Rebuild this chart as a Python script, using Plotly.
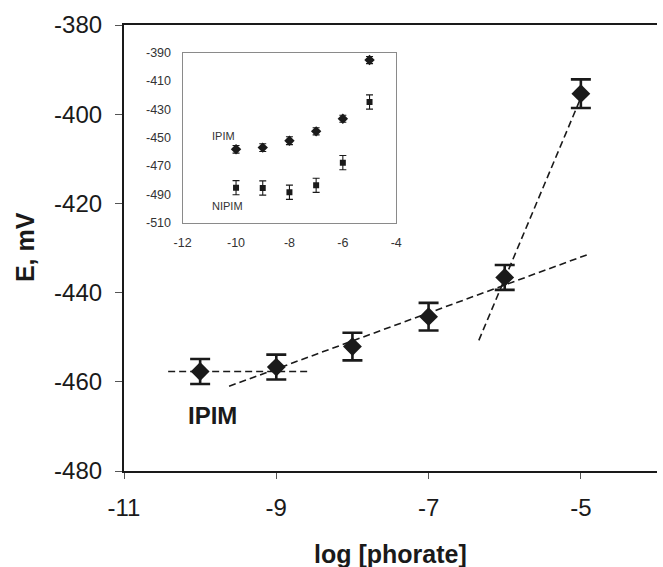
import plotly.graph_objects as go

# ---- data ----
log_conc = [-10, -9, -8, -7, -6, -5]
ipim_E = [-457.7, -456.7, -452.1, -445.4, -436.6, -395.4]
ipim_err = [2.8, 2.8, 3.1, 3.1, 2.8, 3.2]

# inset series
inset_ipim_E = [-458.2, -457.0, -452.1, -445.5, -436.6, -395.2]
inset_ipim_err = [2.7, 2.7, 2.8, 2.5, 2.5, 2.5]
nipim_E = [-485.3, -485.5, -488.5, -483.6, -467.6, -424.8]
nipim_err = [5.0, 5.0, 5.0, 5.0, 5.0, 5.0]

# dashed guide lines (end points, in data units)
flat_x = [-10.42, -8.59]
flat_y = [-457.7, -457.7]
mid_x = [-9.62, -4.90]
mid_y = [-461.0, -431.4]
steep_x = [-6.34, -5.0]
steep_y = [-450.7, -396.3]

x_ticks = [-11, -9, -7, -5]
y_ticks = [-480, -460, -440, -420, -400, -380]
inset_x_ticks = [-12, -10, -8, -6, -4]
inset_y_ticks = [-510, -490, -470, -450, -430, -410, -390]

FONT = "Arial, Liberation Sans, sans-serif"
INK = "#1a1a1a"
DASH = "7px,4px"


def labels(vals):
    return [str(v) for v in vals]  # plain hyphen minus, as in the original


fig = go.Figure()

for xs, ys in [(flat_x, flat_y), (mid_x, mid_y), (steep_x, steep_y)]:
    fig.add_trace(go.Scatter(x=xs, y=ys, mode="lines",
                             line=dict(color=INK, width=1.6, dash=DASH),
                             hoverinfo="skip", showlegend=False))

fig.add_trace(go.Scatter(
    x=log_conc, y=ipim_E, mode="markers",
    marker=dict(symbol="diamond", size=14.5, color=INK, line=dict(width=0)),
    error_y=dict(type="data", array=ipim_err, visible=True, color=INK,
                 thickness=2.6, width=10),
    showlegend=False))

# inset traces
fig.add_trace(go.Scatter(
    x=log_conc, y=inset_ipim_E, mode="markers", xaxis="x2", yaxis="y2",
    marker=dict(symbol="diamond", size=8, color=INK, line=dict(width=0)),
    error_y=dict(type="data", array=inset_ipim_err, visible=True, color=INK,
                 thickness=1.1, width=3.5),
    showlegend=False))
fig.add_trace(go.Scatter(
    x=log_conc, y=nipim_E, mode="markers", xaxis="x2", yaxis="y2",
    marker=dict(symbol="square", size=6, color=INK, line=dict(width=0)),
    error_y=dict(type="data", array=nipim_err, visible=True, color=INK,
                 thickness=1.1, width=3.5),
    showlegend=False))

L, R, T, B = 124, 0, 25, 96
W, H = 663, 567
pw, ph = W - L - R, H - T - B


def px(xpix):
    return (xpix - L) / pw


def py(ypix):
    return (H - B - ypix) / ph


fig.update_layout(
    width=W, height=H,
    margin=dict(l=L, r=R, t=T, b=B),
    paper_bgcolor="white", plot_bgcolor="white",
    font=dict(family=FONT, color=INK),
    xaxis=dict(range=[-11, -4], tickvals=x_ticks, ticktext=labels(x_ticks),
               showgrid=False, zeroline=False,
               showline=True, mirror=True, linecolor=INK, linewidth=2.2,
               ticks="outside", ticklen=6, tickwidth=1, tickcolor="#555",
               ticklabelstandoff=8,
               tickfont=dict(size=24, family=FONT, color=INK)),
    yaxis=dict(range=[-480, -380], tickvals=y_ticks, ticktext=labels(y_ticks),
               showgrid=False, zeroline=False,
               showline=True, linecolor=INK, linewidth=2.2,
               ticks="outside", ticklen=7, tickwidth=1, tickcolor="#555",
               ticklabelstandoff=8,
               tickfont=dict(size=24, family=FONT, color=INK)),
    xaxis2=dict(domain=[px(183.3), px(399.3)], anchor="y2", range=[-12, -4],
                tickvals=inset_x_ticks, ticktext=labels(inset_x_ticks),
                showgrid=False, zeroline=False,
                showline=True, mirror=True, linecolor="#8a8a8a", linewidth=1.2,
                ticks="", ticklabelstandoff=8,
                tickfont=dict(size=12.5, family=FONT, color="#333")),
    yaxis2=dict(domain=[py(222.7), py(52.7)], anchor="x2", range=[-510, -390],
                tickvals=inset_y_ticks, ticktext=labels(inset_y_ticks),
                showgrid=False, zeroline=False,
                showline=True, mirror=True, linecolor="#8a8a8a", linewidth=1.2,
                ticks="", ticklabelstandoff=8,
                tickfont=dict(size=12.5, family=FONT, color="#333")),
    annotations=[
        dict(text="<b>E, mV</b>", x=px(24), y=py(247), xref="paper", yref="paper",
             textangle=-90, showarrow=False, xanchor="center", yanchor="middle",
             font=dict(size=25, family=FONT, color=INK)),
        dict(text="<b>log [phorate]</b>", x=px(393.5), y=py(554), xref="paper", yref="paper",
             showarrow=False, xanchor="center", yanchor="middle",
             font=dict(size=25, family=FONT, color=INK)),
        dict(text="<b>IPIM</b>", x=px(213.5), y=py(415), xref="paper", yref="paper",
             showarrow=False, xanchor="center", yanchor="middle",
             font=dict(size=24, family=FONT, color=INK)),
        dict(text="IPIM", x=px(211), y=py(136), xref="paper", yref="paper",
             showarrow=False, xanchor="left", yanchor="middle",
             font=dict(size=11, family=FONT, color="#333")),
        dict(text="NIPIM", x=px(211), y=py(206), xref="paper", yref="paper",
             showarrow=False, xanchor="left", yanchor="middle",
             font=dict(size=11, family=FONT, color="#333")),
    ],
)

fig.write_html(
    "out.html",
    config={"displayModeBar": False},
    post_script="document.body.style.margin='0';document.body.style.overflow='hidden';",
)
